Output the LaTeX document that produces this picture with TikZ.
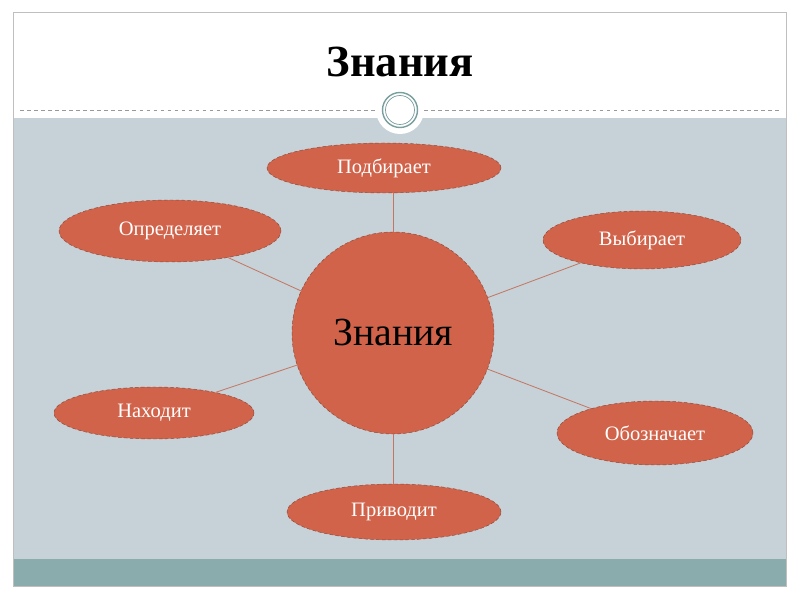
\documentclass[tikz,border=0pt]{standalone}
\usepackage{fontspec}
\setmainfont{Liberation Serif}
\usetikzlibrary{shapes.geometric,calc}

\definecolor{slidebg}{RGB}{198,210,216}
\definecolor{bandteal}{RGB}{139,172,172}
\definecolor{ringteal}{RGB}{120,158,158}
\definecolor{nodefill}{RGB}{208,99,74}
\definecolor{nodeedge}{RGB}{140,72,56}
\definecolor{linkred}{RGB}{196,118,98}

\begin{document}
\begin{tikzpicture}[x=0.03cm,y=-0.03cm,
  leaf/.style={ellipse,draw=nodeedge,densely dashed,line width=0.4pt,fill=nodefill,
               text=white,font=\fontsize{17.5}{20}\selectfont,inner sep=0},
  link/.style={line width=0.7pt,linkred}]

%% page and slide frame
\useasboundingbox (0,0) rectangle (800,600);
\fill[white] (0,0) rectangle (800,600);
\fill[slidebg] (13,118) rectangle (786,559);
\fill[bandteal] (13,559) rectangle (786,586);
\draw[black!25,line width=0.6pt] (13,12) rectangle (786,586);

%% header
\node[font=\bfseries\fontsize{38}{42}\selectfont] (title) at (400,62) {Знания};
\draw[black!40,dashed,line width=0.4pt] (20,110) -- (376,110);
\draw[black!40,dashed,line width=0.4pt] (424,110) -- (780,110);
\fill[white] (400,110) circle (24);
\draw[ringteal,line width=1.2pt] (400,110) circle (17.5);
\draw[ringteal,line width=0.6pt] (400,110) circle (14.5);

%% centre
\node[circle,draw=nodeedge,densely dashed,line width=0.4pt,fill=nodefill,
      minimum size=6.06cm,inner sep=0,font=\fontsize{34}{38}\selectfont] (hub) at (393,333) {Знания};

%% outer nodes
\foreach \n/\x/\y/\w/\h/\t in {
    pod/384/168/234/50/Подбирает,
    opr/170/231/222/62/Определяет,
    vyb/642/240/198/58/Выбирает,
    nah/154/413/200/52/Находит,
    obo/655/433/196/64/Обозначает,
    pri/394/512/214/56/Приводит}
  \node[leaf,minimum width=\w*0.03cm,minimum height=\h*0.03cm] (\n) at (\x,\y) {\t};

%% links
\draw[link] (pod.south -| hub.north) -- (hub.north);
\draw[link] (pri.north -| hub.south) -- (hub.south);
\foreach \n in {opr,vyb,nah,obo}
  \draw[link] (\n) -- (hub);
\end{tikzpicture}
\end{document}
